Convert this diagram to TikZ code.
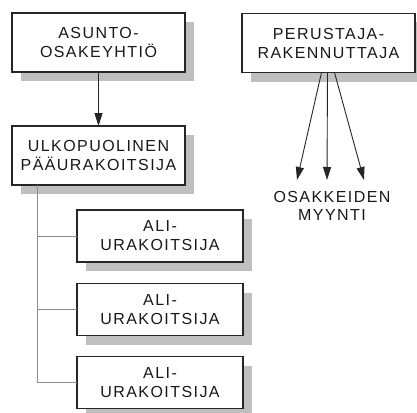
\documentclass[tikz,border=0pt]{standalone}
\usepackage{fontspec}
\setmainfont{Liberation Sans}[LetterSpace=9]
\usetikzlibrary{arrows.meta,shadows}
\begin{document}
\begin{tikzpicture}[x=1pt,y=-1pt,inner sep=0pt,outer sep=0pt,
orgbox/.style={draw=black!85,line width=1.1pt,fill=white,rectangle,align=center,
  font=\fontsize{16}{19}\selectfont,text=black!90,minimum width=173pt,minimum height=59pt,
  drop shadow={shadow xshift=9pt,shadow yshift=-9pt,fill=black!25,opacity=1}},
alibox/.style={orgbox,minimum width=166pt,minimum height=52pt},
branch/.style={draw=black!45,line width=0.8pt},
tolink/.style={draw=black!85,line width=0.9pt,-{Triangle[width=8pt,length=13pt]}}]
\useasboundingbox (0,0) rectangle (417,412);
\node[orgbox] (aso) at (98.5,42.5) {ASUNTO-\\OSAKEYHTIÖ};
\node[orgbox] (ulko) at (98.5,155.5) {ULKOPUOLINEN\\PÄÄURAKOITSIJA};
\node[orgbox] (per) at (328.5,43) {PERUSTAJA-\\RAKENNUTTAJA};
\node[alibox] (ali1) at (160,236) {ALI-\\URAKOITSIJA};
\node[alibox] (ali2) at (160,309.5) {ALI-\\URAKOITSIJA};
\node[alibox] (ali3) at (160,382.5) {ALI-\\URAKOITSIJA};
\node[align=center,font=\fontsize{16}{18}\selectfont,text=black!90] (myynti) at (332,206) {OSAKKEIDEN\\MYYNTI};
% tree of subcontractors
\coordinate (trunk) at ([xshift=25pt]ulko.south west);
\draw[branch] (trunk) |- (ali3.west);
\draw[branch] (trunk |- ali1.west) -- (ali1.west);
\draw[branch] (trunk |- ali2.west) -- (ali2.west);
% arrows
\draw[tolink] (aso) -- (ulko);
\coordinate (m1) at (297,180);
\coordinate (m2) at (327,180);
\coordinate (m3) at (364,180);
\draw[tolink] ([xshift=-7pt]per.south) -- (m1);
\draw[tolink] ([xshift=-1pt]per.south) -- (m2);
\draw[tolink] ([xshift=6pt]per.south) -- (m3);
\end{tikzpicture}
\end{document}
